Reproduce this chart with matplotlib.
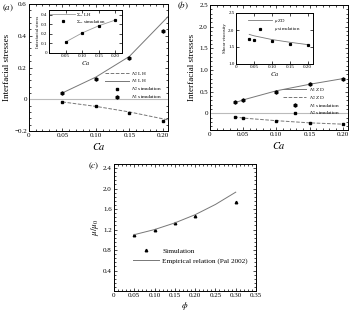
import matplotlib
matplotlib.use('Agg')
import matplotlib.pyplot as plt
from matplotlib.ticker import FuncFormatter, AutoMinorLocator

plt.rcParams['font.family'] = ['Liberation Serif', 'DejaVu Serif']
plt.rcParams['mathtext.fontset'] = 'stix'

# ---- data (a) ----
ca_a = [0.05, 0.10, 0.15, 0.20]
n1_sim_a = [0.04, 0.13, 0.26, 0.43]
n2_sim_a = [-0.015, -0.045, -0.085, -0.135]
ca_lh = [0.05, 0.10, 0.15, 0.2076]
n1_lh = [0.04, 0.14, 0.27, 0.52]
n2_lh = [-0.017, -0.045, -0.08, -0.13]
sxy_sim = [0.113, 0.21, 0.286, 0.35]
sxy_lh = [0.115, 0.21, 0.285, 0.345]

# ---- data (b) ----
ca_b = [0.037, 0.05, 0.10, 0.15, 0.20]
n1_sim_b = [0.25, 0.31, 0.50, 0.68, 0.80]
n2_sim_b = [-0.08, -0.10, -0.17, -0.22, -0.25]
n1_zd = [0.24, 0.31, 0.52, 0.67, 0.80]
n2_zd = [-0.08, -0.11, -0.17, -0.22, -0.25]
mu_sim = [1.74, 1.72, 1.67, 1.60, 1.56]
mu_zd = [1.87, 1.83, 1.72, 1.64, 1.57]

# ---- data (c) ----
phi_sim = [0.05, 0.10, 0.15, 0.20, 0.30]
visc_sim = [1.10, 1.20, 1.33, 1.47, 1.73]
phi_pal = [0.05, 0.10, 0.15, 0.20, 0.25, 0.30]
visc_pal = [1.10, 1.20, 1.33, 1.49, 1.69, 1.93]

W, H = 350, 312
fig = plt.figure(figsize=(W / 100, H / 100), dpi=100)


def px_axes(left, right, top, bottom):
    return fig.add_axes([left / W, 1 - bottom / H, (right - left) / W, (bottom - top) / H])


def fmt(dec):
    def f(v, pos):
        if abs(v) < 1e-9:
            return '0'
        return ('{:.%df}' % dec).format(v).replace('-', '\u2212')
    return FuncFormatter(f)


def style(ax, size=5, minor=True):
    ax.tick_params(direction='in', which='both', top=True, right=True, labelsize=size,
                   width=0.5, pad=1.5)
    ax.tick_params(which='major', length=2.2)
    ax.tick_params(which='minor', length=1.2)
    for s in ax.spines.values():
        s.set_linewidth(0.7)
    if minor:
        ax.xaxis.set_minor_locator(AutoMinorLocator(5))
        ax.yaxis.set_minor_locator(AutoMinorLocator(5))


GRAY = '#777777'

# ----- panel (a) -----
ax = px_axes(29, 168, 4, 131)
ax.axhline(0, color='#bbbbbb', lw=0.8)
ax.plot(ca_lh, n2_lh, '--', color=GRAY, lw=0.7, label=r'$N_2$ LH')
ax.plot(ca_lh, n1_lh, '-', color=GRAY, lw=0.7, label=r'$N_1$ LH')
ax.plot(ca_a, n2_sim_a, 's', color='black', ms=1.6, ls='none', label=r'$N_2$ simulation')
ax.plot(ca_a, n1_sim_a, 'h', color='black', ms=2.2, ls='none', label=r'$N_1$ simulation')
ax.set_xlim(0, 0.2076)
ax.set_ylim(-0.2, 0.6)
ax.set_xticks([0, 0.05, 0.10, 0.15, 0.20])
ax.set_yticks([-0.2, 0, 0.2, 0.4, 0.6])
ax.xaxis.set_major_formatter(fmt(2))
ax.yaxis.set_major_formatter(fmt(1))
style(ax)
ax.set_xlabel(r'$Ca$', fontsize=7.5, labelpad=2)
ax.set_ylabel('Interfacial stresses', fontsize=6.5, labelpad=2)
ax.legend(loc='upper left', bbox_to_anchor=(0.52, 0.51), fontsize=3.8, frameon=False,
          handlelength=4.5, handletextpad=0.4, labelspacing=0.05, borderpad=0.2)
fig.text(2 / W, 1 - 8 / H, r'$(\mathit{a})$', fontsize=6.5, va='center')

ia = px_axes(49, 122, 10, 53)
ia.plot(ca_a, sxy_lh, '-', color='#999999', lw=0.6, label=r'$\Sigma_{xy}$ LH')
ia.plot(ca_a, sxy_sim, 's', color='black', ms=1.3, ls='none', label=r'$\Sigma_{xy}$ simulation')
ia.set_xlim(0, 0.22)
ia.set_ylim(0, 0.45)
ia.set_xticks([0.05, 0.10, 0.15, 0.20])
ia.set_yticks([0, 0.1, 0.2, 0.3, 0.4])
ia.xaxis.set_major_formatter(fmt(2))
ia.yaxis.set_major_formatter(fmt(1))
style(ia, size=3.6, minor=False)
ia.tick_params(pad=1)
ia.set_xlabel(r'$Ca$', fontsize=4.5, labelpad=0.5)
ia.set_ylabel('Interfacial stress', fontsize=3.5, labelpad=1)
ia.legend(loc='upper left', bbox_to_anchor=(-0.02, 1.04), fontsize=3.5, frameon=False,
          handlelength=5, handletextpad=0.3, labelspacing=0.1, borderpad=0.1)

# ----- panel (b) -----
bx = px_axes(210, 348, 5, 130)
bx.axhline(0, color='#bbbbbb', lw=0.8)
bx.plot(ca_b, n1_zd, '-', color=GRAY, lw=0.7, label=r'$N_1$ ZD')
bx.plot(ca_b, n2_zd, '--', color=GRAY, lw=0.7, label=r'$N_2$ ZD')
bx.plot(ca_b, n1_sim_b, 'h', color='black', ms=2.2, ls='none', label=r'$N_1$ simulation')
bx.plot(ca_b, n2_sim_b, 's', color='black', ms=1.6, ls='none', label=r'$N_2$ simulation')
bx.set_xlim(0, 0.208)
bx.set_ylim(-0.385, 2.5)
bx.set_xticks([0, 0.05, 0.10, 0.15, 0.20])
bx.set_yticks([0, 0.5, 1.0, 1.5, 2.0, 2.5])
bx.xaxis.set_major_formatter(fmt(2))
bx.yaxis.set_major_formatter(fmt(1))
style(bx)
bx.set_xlabel(r'$Ca$', fontsize=7.5, labelpad=2)
bx.set_ylabel('Interfacial stresses', fontsize=6.5, labelpad=2)
bx.legend(loc='upper left', bbox_to_anchor=(0.5, 0.38), fontsize=3.8, frameon=False,
          handlelength=4.5, handletextpad=0.4, labelspacing=0.05, borderpad=0.2)
fig.text(177 / W, 1 - 6 / H, r'$(\mathit{b})$', fontsize=6.5, va='center')

ib = px_axes(236, 313, 13, 64)
ib.plot(ca_b, mu_zd, '-', color=GRAY, lw=0.6, label=r'$\mu$ ZD')
ib.plot(ca_b, mu_sim, 's', color='black', ms=1.3, ls='none', label=r'$\mu$ simulation')
ib.set_xlim(0, 0.215)
ib.set_ylim(1.0, 2.5)
ib.set_xticks([0, 0.05, 0.10, 0.15, 0.20])
ib.set_yticks([1.0, 1.5, 2.0, 2.5])
ib.xaxis.set_major_formatter(fmt(2))
ib.yaxis.set_major_formatter(fmt(1))
style(ib, size=3.6, minor=False)
ib.tick_params(pad=1)
ib.set_xlabel(r'$Ca$', fontsize=4.5, labelpad=0.5)
ib.set_ylabel('Shear viscosity', fontsize=3.5, labelpad=1)
ib.legend(loc='upper left', bbox_to_anchor=(0.12, 0.98), fontsize=3.5, frameon=False,
          handlelength=5, handletextpad=0.3, labelspacing=0.1, borderpad=0.1)

# ----- panel (c) -----
cx = px_axes(114, 256, 164, 291)
cx.plot(phi_sim, visc_sim, '^', color='black', ms=1.8, ls='none', label='Simulation')
cx.plot(phi_pal, visc_pal, '-', color=GRAY, lw=0.7, label='Empirical relation (Pal 2002)')
cx.set_xlim(0, 0.35)
cx.set_ylim(0, 2.48)
cx.set_xticks([0, 0.05, 0.10, 0.15, 0.20, 0.25, 0.30, 0.35])
cx.set_yticks([0.4, 0.8, 1.2, 1.6, 2.0, 2.4])
cx.xaxis.set_major_formatter(fmt(2))
cx.yaxis.set_major_formatter(fmt(1))
style(cx)
cx.set_xlabel(r'$\phi$', fontsize=6.5, labelpad=1.5)
cx.set_ylabel(r'$\mu/\mu_0$', fontsize=6.5, labelpad=1.5)
cx.legend(loc='upper left', bbox_to_anchor=(0.1, 0.38), fontsize=5.2, frameon=False,
          handlelength=3.5, handletextpad=0.5, labelspacing=0.45, borderpad=0.2)
fig.text(88 / W, 1 - 166 / H, r'$(\mathit{c})$', fontsize=6.5, va='center')

fig.savefig('out.png', dpi=100)
